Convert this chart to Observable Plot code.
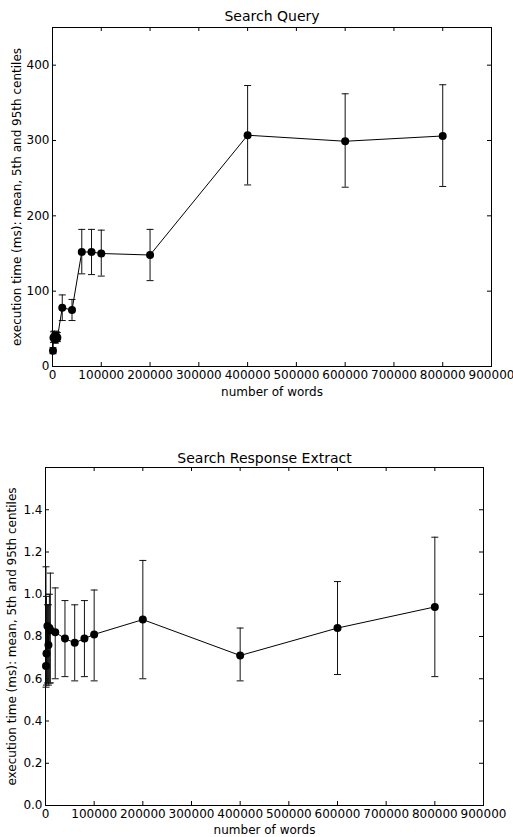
<!DOCTYPE html>
<html>
<head>
<meta charset="utf-8">
<script src="https://cdn.jsdelivr.net/npm/d3@7"></script>
<script src="https://cdn.jsdelivr.net/npm/@observablehq/plot@0.6"></script>
<style>
  body { margin: 0; background: #fff; }
  #chart svg { display: block; }
  #chart svg, #chart svg text, #chart svg g { font-family: "DejaVu Sans", sans-serif !important; }
</style>
</head>
<body>
<div id="chart"></div>
<script>
// number of words (x)
const words = [1000, 2000, 4000, 6000, 8000, 10000, 20000, 40000, 60000, 80000, 100000, 200000, 400000, 600000, 800000];

// Search Query (ms)
const queryMean = [21, 38, 40, 36, 40, 38, 78, 75, 152, 152, 150, 148, 307, 299, 306];
const queryLo   = [17, 32, 33, 31, 34, 33, 61, 61, 123, 122, 120, 114, 241, 238, 239];
const queryHi   = [25, 46, 47, 44, 46, 45, 95, 89, 182, 182, 181, 182, 373, 362, 374];

// Search Response Extract (ms)
const extractMean = [0.66, 0.72, 0.85, 0.76, 0.84, 0.83, 0.82, 0.79, 0.77, 0.79, 0.81, 0.88, 0.71, 0.84, 0.94];
const extractLo   = [0.56, 0.57, 0.58, 0.57, 0.58, 0.58, 0.60, 0.61, 0.59, 0.61, 0.59, 0.60, 0.59, 0.62, 0.61];
const extractHi   = [1.13, 0.99, 0.95, 0.95, 1.00, 1.10, 1.03, 0.97, 0.95, 0.97, 1.02, 1.16, 0.84, 1.06, 1.27];

const xTicks = [0, 100000, 200000, 300000, 400000, 500000, 600000, 700000, 800000, 900000];
const queryTicks = [0, 100, 200, 300, 400];
const extractTicks = [0.0, 0.2, 0.4, 0.6, 0.8, 1.0, 1.2, 1.4];

const titles = ["Search Query", "Search Response Extract"];
const xLabel = "number of words";
const yLabel = "execution time (ms): mean, 5th and 95th centiles";

const capSymbol = {
  draw(ctx) { ctx.moveTo(-3.5, 0); ctx.lineTo(3.5, 0); }
};

function panel(cfg) {
  const rows = words.map((w, i) => ({w, m: cfg.mean[i], lo: cfg.lo[i], hi: cfg.hi[i]}));
  const fh = cfg.height - cfg.marginTop - cfg.marginBottom;
  const fw = 513 - cfg.marginLeft - cfg.marginRight;
  return Plot.plot({
    width: 513,
    height: cfg.height,
    marginTop: cfg.marginTop,
    marginBottom: cfg.marginBottom,
    marginLeft: cfg.marginLeft,
    marginRight: cfg.marginRight,
    style: {fontFamily: "DejaVu Sans, sans-serif", fontSize: "12px", color: "#000", background: "#fff", overflow: "visible"},
    x: {domain: [0, 900000]},
    y: {domain: cfg.domain},
    marks: [
      Plot.frame({stroke: "#000", strokeWidth: 1}),
      // inward ticks
      Plot.tickX(xTicks, {x: d => d, insetBottom: fh - 4, stroke: "#000"}),
      Plot.tickX(xTicks, {x: d => d, insetTop: fh - 4, stroke: "#000"}),
      Plot.tickY(cfg.ticks, {y: d => d, insetRight: fw - 4, stroke: "#000"}),
      Plot.tickY(cfg.ticks, {y: d => d, insetLeft: fw - 4, stroke: "#000"}),
      Plot.axisX(xTicks, {tickSize: 0, tickPadding: 4, tickFormat: d => String(d), label: null, fontSize: 12}),
      Plot.axisY(cfg.ticks, {tickSize: 0, tickPadding: 3, tickFormat: cfg.fmt, label: null, fontSize: 12}),
      // error bars
      Plot.ruleX(rows, {x: "w", y1: "lo", y2: "hi", stroke: "#111", strokeWidth: 1}),
      Plot.dot(rows, {x: "w", y: "hi", symbol: capSymbol, stroke: "#111", strokeWidth: 1, r: 3}),
      Plot.dot(rows, {x: "w", y: "lo", symbol: capSymbol, stroke: "#111", strokeWidth: 1, r: 3}),
      // mean line + markers
      Plot.line(rows, {x: "w", y: "m", stroke: "#000", strokeWidth: 1}),
      Plot.dot(rows, {x: "w", y: "m", r: 4, fill: "#000", stroke: "none"}),
      // texts
      Plot.text([cfg.title], {text: d => d, frameAnchor: "top", lineAnchor: "middle", textAnchor: "middle", dy: cfg.titleDy, fontSize: 14, fill: "#000"}),
      Plot.text([xLabel], {text: d => d, frameAnchor: "bottom", lineAnchor: "middle", textAnchor: "middle", dy: cfg.xLabelDy, fontSize: 12, fill: "#000"}),
      Plot.text([yLabel], {text: d => d, frameAnchor: "left", lineAnchor: "middle", textAnchor: "middle", dx: cfg.yLabelDx, rotate: -90, fontSize: 12, fill: "#000"})
    ]
  });
}

const root = document.getElementById("chart");
root.append(panel({
  title: titles[0], mean: queryMean, lo: queryLo, hi: queryHi,
  domain: [0, 450], ticks: queryTicks, fmt: d => String(d),
  height: 418, marginTop: 27, marginBottom: 52, marginLeft: 52, marginRight: 22,
  titleDy: -11, xLabelDy: 26, yLabelDx: -35
}));
root.append(panel({
  title: titles[1], mean: extractMean, lo: extractLo, hi: extractHi,
  domain: [0, 1.6], ticks: extractTicks, fmt: d => d.toFixed(1),
  height: 419, marginTop: 49, marginBottom: 32, marginLeft: 45, marginRight: 30,
  titleDy: -9, xLabelDy: 25, yLabelDx: -33
}));
</script>
</body>
</html>
